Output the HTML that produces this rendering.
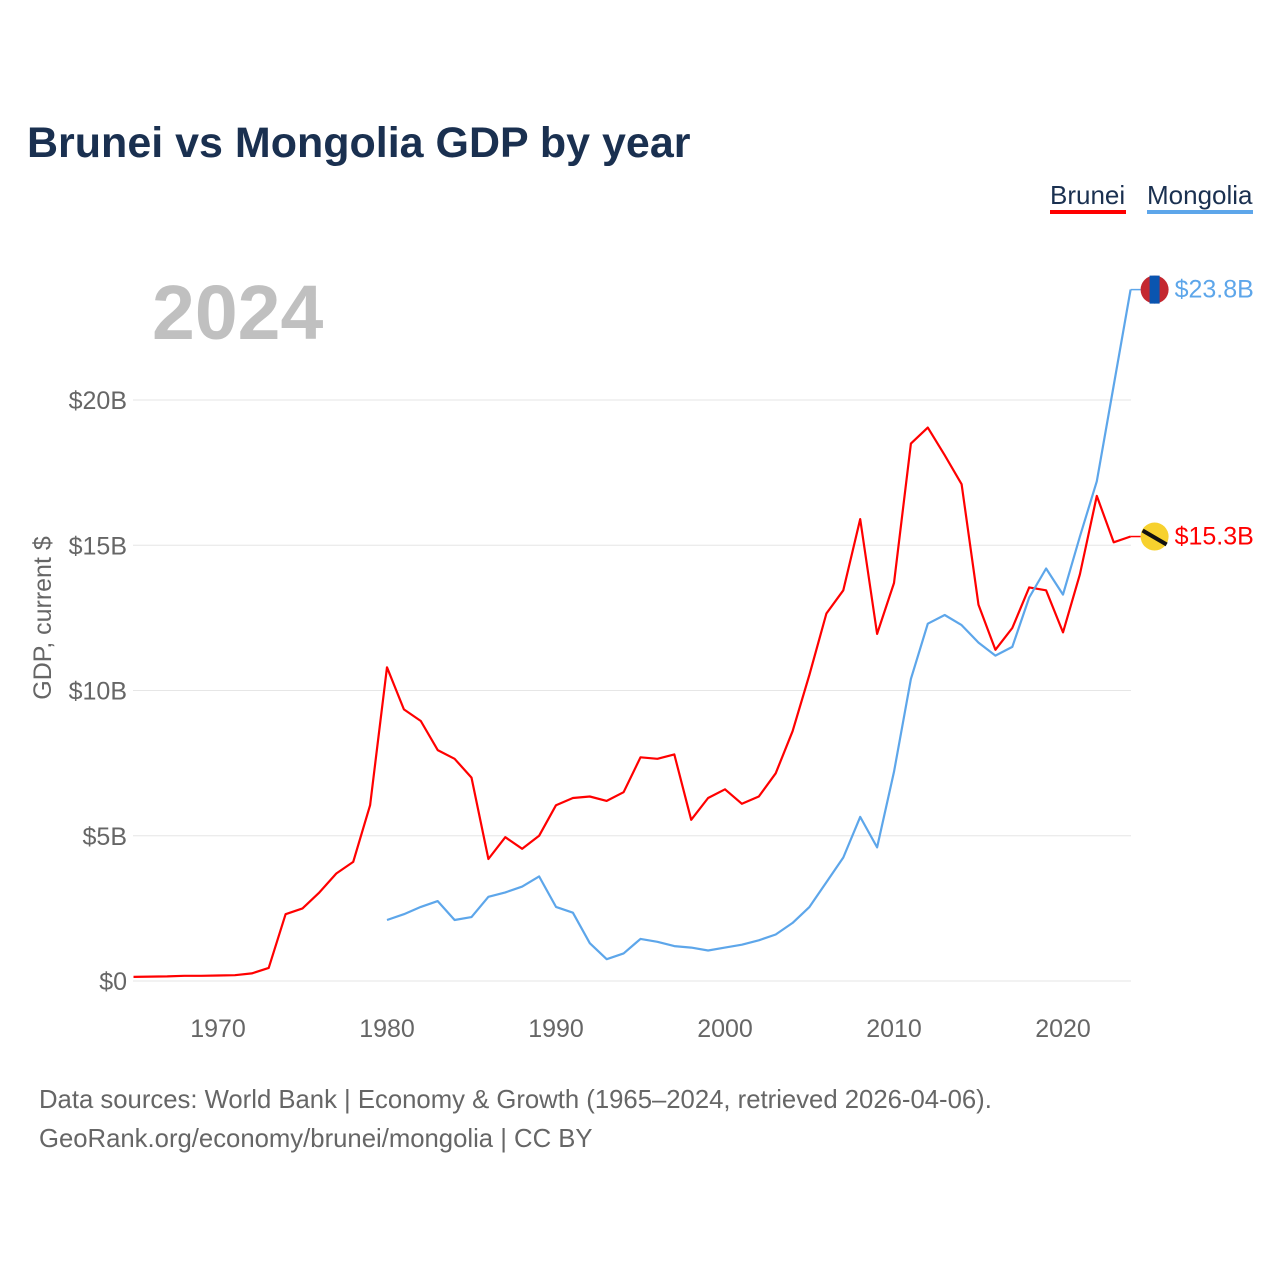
<!DOCTYPE html>
<html><head><meta charset="utf-8"><style>
body{margin:0;background:#fff;font-family:"Liberation Sans",sans-serif}
svg text{font-family:"Liberation Sans",sans-serif}
</style></head><body>
<svg id="chart" width="1280" height="1280" xmlns="http://www.w3.org/2000/svg">
<text x="27" y="157" font-size="43" font-weight="bold" fill="#1a3050">Brunei vs Mongolia GDP by year</text>
<g><text x="1050" y="204" font-size="26" fill="#1a3050">Brunei</text><rect x="1050" y="210" width="76" height="4" fill="#ff0000"/></g>
<g><text x="1147" y="204" font-size="26" fill="#1a3050">Mongolia</text><rect x="1147" y="210" width="106" height="4" fill="#5da6ea"/></g>
<text x="152" y="339" font-size="77" font-weight="bold" fill="#c0c0c0">2024</text>
<text transform="translate(51,618) rotate(-90)" text-anchor="middle" font-size="25" fill="#666">GDP, current $</text>
<g id="grid"></g><g id="lines"></g>
<text x="39" y="1108" font-size="25.7" fill="#666">Data sources: World Bank | Economy &amp; Growth (1965–2024, retrieved 2026-04-06).</text>
<text x="39" y="1147" font-size="25.7" fill="#666">GeoRank.org/economy/brunei/mongolia | CC BY</text>
</svg>
<script>
const yTicks=[0,5,10,15,20];
const xTicks=[1970,1980,1990,2000,2010,2020];
const bruneiYears=[1965,1966,1967,1968,1969,1970,1971,1972,1973,1974,1975,1976,1977,1978,1979,1980,1981,1982,1983,1984,1985,1986,1987,1988,1989,1990,1991,1992,1993,1994,1995,1996,1997,1998,1999,2000,2001,2002,2003,2004,2005,2006,2007,2008,2009,2010,2011,2012,2013,2014,2015,2016,2017,2018,2019,2020,2021,2022,2023,2024];
const bruneiGdp=[0.14,0.15,0.16,0.18,0.18,0.19,0.2,0.26,0.45,2.3,2.5,3.05,3.7,4.1,6.05,10.8,9.35,8.95,7.95,7.65,7.0,4.2,4.95,4.55,5.0,6.05,6.3,6.35,6.2,6.5,7.7,7.65,7.8,5.55,6.3,6.6,6.1,6.35,7.15,8.6,10.55,12.65,13.45,15.9,11.95,13.7,18.5,19.05,18.1,17.1,12.95,11.4,12.15,13.55,13.45,12.0,14.0,16.7,15.1,15.3];
const mongoliaYears=[1980,1981,1982,1983,1984,1985,1986,1987,1988,1989,1990,1991,1992,1993,1994,1995,1996,1997,1998,1999,2000,2001,2002,2003,2004,2005,2006,2007,2008,2009,2010,2011,2012,2013,2014,2015,2016,2017,2018,2019,2020,2021,2022,2023,2024];
const mongoliaGdp=[2.1,2.3,2.55,2.75,2.1,2.2,2.9,3.05,3.25,3.6,2.55,2.35,1.3,0.75,0.95,1.45,1.35,1.2,1.15,1.05,1.15,1.25,1.4,1.6,2.0,2.55,3.4,4.25,5.65,4.6,7.2,10.4,12.3,12.6,12.25,11.65,11.2,11.5,13.2,14.2,13.3,15.3,17.2,20.5,23.8];
const NS="http://www.w3.org/2000/svg";
const X=y=>133.5+(y-1965)*16.9;
const Y=v=>981-v*29.05;
const grid=document.getElementById('grid'),lines=document.getElementById('lines');
function mk(t,a,p){const e=document.createElementNS(NS,t);for(const k in a)e.setAttribute(k,a[k]);p.appendChild(e);return e;}
yTicks.forEach(v=>{
 const l=mk('line',{x1:133,x2:1131,y1:Y(v),y2:Y(v),stroke:'#e6e6e6','stroke-width':1},grid);
 
 
 const t=mk('text',{x:127,y:Y(v)+9,'text-anchor':'end','font-size':25,fill:'#666'},grid);
 t.textContent='$'+v+(v?'B':'');
 
 
});
xTicks.forEach(y=>{
 const t=mk('text',{x:X(y),y:1037,'text-anchor':'middle','font-size':25,fill:'#666'},grid);
 t.textContent=y;
 
 
});
function series(years,vals,color,name){
 const d=years.map((y,i)=>(i?'L':'M')+X(y).toFixed(1)+','+Y(vals[i]).toFixed(1)).join('');
 const p=mk('path',{d:d,fill:'none',stroke:color,'stroke-width':2.2,'stroke-linejoin':'round'},lines);
 
 
 const last=vals[vals.length-1],lx=X(years[years.length-1]),ly=Y(last);
 mk('line',{x1:lx,x2:lx+10,y1:ly,y2:ly,stroke:color,'stroke-width':1.5},lines);
 const c=mk('circle',{cx:lx+24,cy:ly,r:14,fill:name==='brunei'?'#f7d12e':'#c4272f'},lines);
 
 
 if(name==='mongolia')mk('rect',{x:lx+19,y:ly-14,width:10,height:28,fill:'#0a55b0'},lines);
 else mk('line',{x1:lx+12,y1:ly-6,x2:lx+36,y2:ly+8,stroke:'#111','stroke-width':4},lines);
 const t=mk('text',{x:lx+44,y:ly+8,'font-size':25,fill:color},lines);
 t.textContent='$'+last.toFixed(1)+'B';
 
 
}
series(bruneiYears,bruneiGdp,'#ff0000','brunei');
series(mongoliaYears,mongoliaGdp,'#5da6ea','mongolia');
</script>
</body></html>
